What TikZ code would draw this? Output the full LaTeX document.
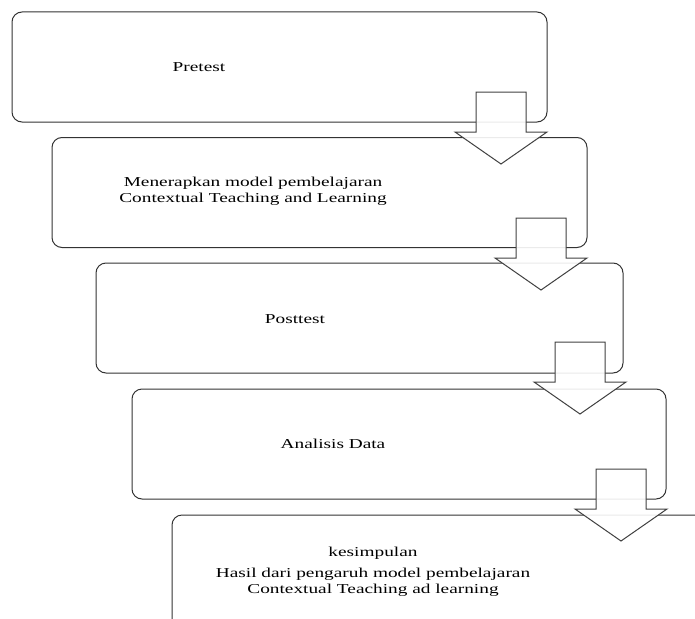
\documentclass[tikz,border=0pt]{standalone}
\usepackage{fontspec}
\setmainfont{Liberation Serif}[FakeStretch=1.42]
\tikzset{stage/.style={draw=black!80,line width=1pt,rounded corners=10pt,minimum width=535pt,minimum height=110pt,inner sep=0pt},
  txt/.style={font=\fontsize{13.6pt}{16pt}\selectfont,align=center,anchor=base,inner sep=0pt},
  downarrow/.style={draw=black!75,line width=1pt,fill=white,fill opacity=0.9,line join=miter}}

\begin{document}
\begin{tikzpicture}[x=1pt,y=-1pt]
      \useasboundingbox (0,0) rectangle (695,618);
      \clip (0,0) rectangle (695,618);
      \node[stage] (pre) at (279.5,67) {};
      \node[stage] (ctl) at (319.5,192.5) {};
      \node[stage,minimum width=527pt] (post) at (359.5,318) {};
      \node[stage,minimum width=534pt] (anl) at (399,444) {};
      \node[stage,minimum height=140pt] (kes) at (439.5,585) {};

      % text sits on its last baseline
      \node[txt] (pretext) at (199,71) {Pretest};
      \node[txt] (ctltext) at (253,202) {Menerapkan model pembelajaran\\Contextual Teaching and Learning};
      \node[txt] (posttext) at (295,323) {Posttest};
      \node[txt] (anltext) at (333,448) {Analisis Data};
      \node[txt] (kestext) at (373,556) {kesimpulan};
      \node[txt] (hasiltext) at (373,593) {Hasil dari pengaruh model pembelajaran\\Contextual Teaching ad learning};

\foreach \c/\t in {501/92,541/218,580/342,621/469}
  \draw[downarrow] (\c-25,\t) -- (\c+25,\t) -- (\c+25,\t+40) -- (\c+46,\t+40)
    -- (\c,\t+72) -- (\c-46,\t+40) -- (\c-25,\t+40) -- cycle;
    \end{tikzpicture}
\end{document}
